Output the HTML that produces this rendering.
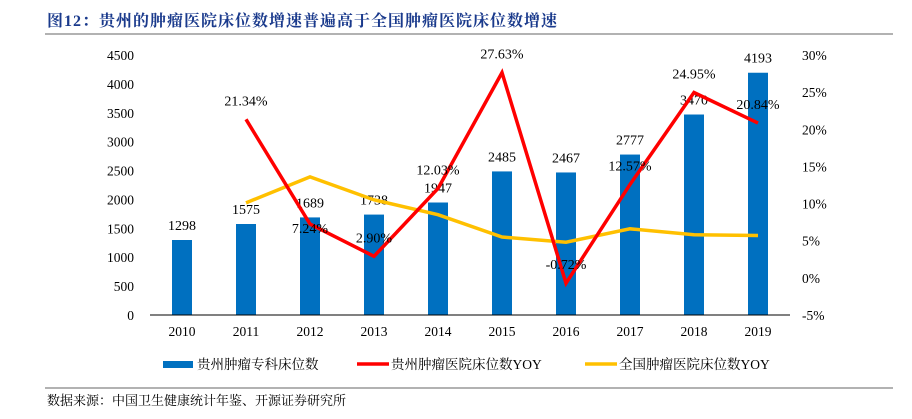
<!DOCTYPE html>
<html><head><meta charset="utf-8"><style>
body{margin:0;background:#fff;width:912px;height:414px;overflow:hidden;font-family:"Liberation Serif","Noto Serif CJK SC",serif}
</style></head><body>
<svg width="912" height="414" xmlns="http://www.w3.org/2000/svg">
<text x="47" y="26" font-size="16" font-weight="bold" letter-spacing="1" fill="#1a3a8c" font-family="Liberation Serif, Noto Serif CJK SC, serif">图12：贵州的肿瘤医院床位数增速普遍高于全国肿瘤医院床位数增速</text>
<line x1="45" y1="34" x2="893" y2="34" stroke="#999" stroke-width="1.5"/>
<g id="plot"></g>
<line x1="45" y1="388" x2="893" y2="388" stroke="#999" stroke-width="1.5"/>
<text x="47" y="405" font-size="13" fill="#000">数据来源：中国卫生健康统计年鉴、开源证券研究所</text>
</svg>
<script>
const categories=['2010','2011','2012','2013','2014','2015','2016','2017','2018','2019'];
const beds=[1298,1575,1689,1738,1947,2485,2467,2777,3470,4193];
const guizhouYoy=[null,21.34,7.24,2.90,12.03,27.63,-0.72,12.57,24.95,20.84];
const nationalYoy=[null,10.1,13.6,10.5,8.5,5.5,4.8,6.6,5.8,5.7];
const leftTicks=[0,500,1000,1500,2000,2500,3000,3500,4000,4500];
const rightTicks=[-5,0,5,10,15,20,25,30];

const NS='http://www.w3.org/2000/svg';
const g=document.getElementById('plot');
const x0=150,x1=790,yTop=55,yBot=315;
const step=(x1-x0)/categories.length;
const xs=i=>x0+step*(i+0.5);
const yL=v=>yBot-(v/4500)*(yBot-yTop);
const yR=v=>yBot-((v+5)/35)*(yBot-yTop);
function el(t,a,txt){const e=document.createElementNS(NS,t);for(const k in a)e.setAttribute(k,a[k]);if(txt!=null)e.textContent=txt;g.appendChild(e);return e;}

leftTicks.forEach(t=>{const e=el('text',{x:134,y:yL(t)+5,'font-size':13.5,'text-anchor':'end'},t);

});
rightTicks.forEach(t=>{const e=el('text',{x:802,y:yR(t)+5,'font-size':13.5},t+'%');

});
categories.forEach((c,i)=>{const e=el('text',{x:xs(i),y:336,'font-size':13.5,'text-anchor':'middle'},c);

});

beds.forEach((v,i)=>{const r=el('rect',{x:xs(i)-10,y:yL(v),width:20,height:yBot-yL(v),fill:'#0070c0'});


const t=el('text',{x:xs(i),y:yL(v)-10,'font-size':14,'text-anchor':'middle'},v);

});
const ax=el('line',{x1:x0,y1:yBot,x2:x1,y2:yBot,stroke:'#000','stroke-width':1});



function line(arr,color,name){let d='';arr.forEach((v,i)=>{if(v==null)return;d+=(d?'L':'M')+xs(i)+','+yR(v);});
const p=el('path',{d:d,fill:'none',stroke:color,'stroke-width':3.5,'stroke-linejoin':'miter'});

}
line(nationalYoy,'#ffc000','national-yoy-line');
line(guizhouYoy,'#ff0000','guizhou-yoy-line');
guizhouYoy.forEach((v,i)=>{if(v==null)return;
const t=el('text',{x:xs(i),y:i==2?yR(v)+9:yR(v)-14,'font-size':14,'text-anchor':'middle'},v.toFixed(2)+'%');

});

const leg=[['rect','#0070c0','贵州肿瘤专科床位数',163],['line','#ff0000','贵州肿瘤医院床位数YOY',357],['line','#ffc000','全国肿瘤医院床位数YOY',585]];
leg.forEach(([k,c,txt,lx],i)=>{
const m=k=='rect'?el('rect',{x:lx,y:361,width:30,height:7,fill:c}):el('line',{x1:lx,y1:364,x2:lx+32,y2:364,stroke:c,'stroke-width':3.5});


const t=el('text',{x:lx+34,y:369,'font-size':13.5,'font-family':'Liberation Serif, Noto Serif CJK SC, serif'},txt);

});
</script>
</body></html>
